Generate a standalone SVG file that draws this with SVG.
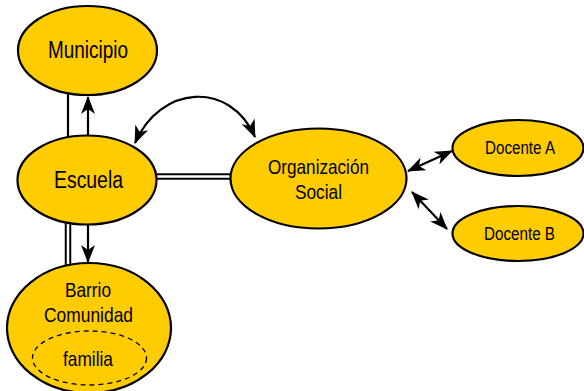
<svg xmlns="http://www.w3.org/2000/svg" width="584" height="391" viewBox="0 0 584 391">
<style>
.node{fill:#FFCC00;stroke:#000;stroke-width:2.2}
.lbl{font-family:"Liberation Sans",Arial,sans-serif;fill:#000;text-anchor:middle}
.ln{stroke:#000;stroke-width:2.2;fill:none}
.dbo{stroke:#000;stroke-width:6.5;fill:none}
.dbi{stroke:#fff;stroke-width:2.5;fill:none}
</style>
<defs>
<marker id="ah" markerUnits="userSpaceOnUse" markerWidth="18" markerHeight="14" viewBox="0 0 18 14" refX="17" refY="7" orient="auto-start-reverse">
<path d="M0,0 L18,7 L0,14 L5,7 z" fill="#000"/>
</marker>
</defs>
<rect width="584" height="391" fill="#fff"/>
<g id="connectors">
<line class="ln" x1="68" y1="94" x2="68" y2="137"/>
<line class="ln" x1="88" y1="136" x2="88" y2="97" marker-end="url(#ah)"/>
<line class="dbo" x1="68" y1="222" x2="68" y2="266"/>
<line class="dbi" x1="68" y1="222" x2="68" y2="266"/>
<line class="ln" x1="88" y1="225" x2="88" y2="262" marker-end="url(#ah)"/>
<line class="dbo" x1="154" y1="176.5" x2="233" y2="176.5"/>
<line class="dbi" x1="154" y1="176.5" x2="233" y2="176.5"/>
<path class="ln" d="M135,143 C160,85 230,80 255,137" marker-start="url(#ah)" marker-end="url(#ah)"/>
<line class="ln" x1="408" y1="171" x2="452" y2="151" marker-start="url(#ah)" marker-end="url(#ah)"/>
<line class="ln" x1="412" y1="192" x2="447" y2="229" marker-start="url(#ah)" marker-end="url(#ah)"/>
</g>
<g id="municipio">
<ellipse class="node" cx="87.5" cy="50.5" rx="69.5" ry="44.5"/>
<text class="lbl" x="88" y="58" font-size="23" textLength="80" lengthAdjust="spacingAndGlyphs">Municipio</text>
</g>
<g id="escuela">
<ellipse class="node" cx="87" cy="180" rx="69.5" ry="44.5"/>
<text class="lbl" x="88.5" y="188" font-size="23" textLength="69" lengthAdjust="spacingAndGlyphs">Escuela</text>
</g>
<g id="barrio">
<ellipse class="node" cx="89" cy="328" rx="82" ry="65"/>
<text class="lbl" x="88" y="297" font-size="21" textLength="46" lengthAdjust="spacingAndGlyphs">Barrio</text>
<text class="lbl" x="88.5" y="322" font-size="21" textLength="89" lengthAdjust="spacingAndGlyphs">Comunidad</text>
<ellipse cx="89.5" cy="358" rx="57" ry="27" fill="none" stroke="#000" stroke-width="1.3" stroke-dasharray="5,4"/>
<text class="lbl" x="88" y="366" font-size="21" textLength="50" lengthAdjust="spacingAndGlyphs">familia</text>
</g>
<g id="organizacion">
<ellipse class="node" cx="318.5" cy="178.5" rx="88" ry="50"/>
<text class="lbl" x="318.5" y="174" font-size="21" textLength="101" lengthAdjust="spacingAndGlyphs">Organización</text>
<text class="lbl" x="318.5" y="199" font-size="21" textLength="47" lengthAdjust="spacingAndGlyphs">Social</text>
</g>
<g id="docenteA">
<ellipse class="node" cx="518" cy="148" rx="65.5" ry="28"/>
<text class="lbl" x="520" y="154" font-size="18" textLength="70" lengthAdjust="spacingAndGlyphs">Docente A</text>
</g>
<g id="docenteB">
<ellipse class="node" cx="518" cy="233.5" rx="65.5" ry="27.5"/>
<text class="lbl" x="519.5" y="240" font-size="18" textLength="71" lengthAdjust="spacingAndGlyphs">Docente B</text>
</g>
</svg>
